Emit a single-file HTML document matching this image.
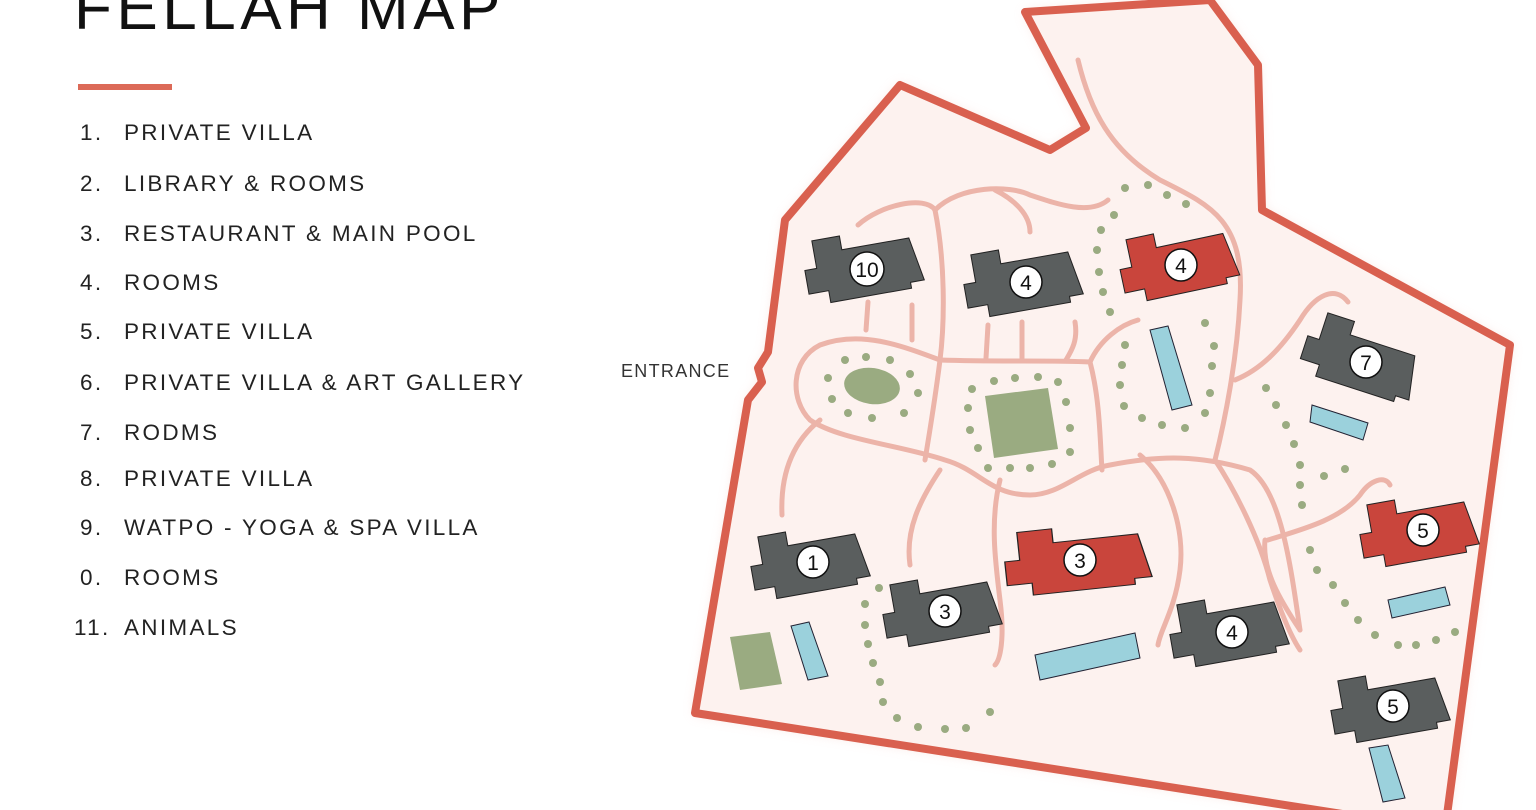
<!DOCTYPE html>
<html><head><meta charset="utf-8"><style>
html,body{margin:0;padding:0;background:#fff;}
body{width:1536px;height:810px;overflow:hidden;position:relative;font-family:"Liberation Sans",sans-serif;}
.t{position:absolute;left:74px;top:-22px;font-size:62px;letter-spacing:4.5px;color:#111;line-height:1;}
.bar{position:absolute;left:78px;top:84px;width:94px;height:6px;background:#dc6a58;}
.li{position:absolute;font-size:22.5px;letter-spacing:2.3px;color:#222;line-height:1;}
.li span{position:absolute;left:0;}
.li b{font-weight:normal;position:absolute;left:44px;white-space:nowrap;}
</style></head><body>
<div class="t">FELLAH MAP</div>
<div class="bar"></div>
<div class="li" style="left:80px;top:122px"><span>1.</span><b>PRIVATE VILLA</b></div>
<div class="li" style="left:80px;top:173px"><span>2.</span><b>LIBRARY &amp; ROOMS</b></div>
<div class="li" style="left:80px;top:223px"><span>3.</span><b>RESTAURANT &amp; MAIN POOL</b></div>
<div class="li" style="left:80px;top:272px"><span>4.</span><b>ROOMS</b></div>
<div class="li" style="left:80px;top:321px"><span>5.</span><b>PRIVATE VILLA</b></div>
<div class="li" style="left:80px;top:372px"><span>6.</span><b>PRIVATE VILLA &amp; ART GALLERY</b></div>
<div class="li" style="left:80px;top:422px"><span>7.</span><b>RODMS</b></div>
<div class="li" style="left:80px;top:468px"><span>8.</span><b>PRIVATE VILLA</b></div>
<div class="li" style="left:80px;top:517px"><span>9.</span><b>WATPO - YOGA &amp; SPA VILLA</b></div>
<div class="li" style="left:80px;top:567px"><span>0.</span><b>ROOMS</b></div>
<div class="li" style="left:74px;top:617px"><span>11.</span><b style="left:50px">ANIMALS</b></div>
<svg width="1536" height="810" style="position:absolute;left:0;top:0">
<defs>
<filter id="g" x="-10%" y="-10%" width="120%" height="120%"><feGaussianBlur stdDeviation="6"/></filter>
<path id="b" d="M-48,-34 L-20,-34 L-20,-20 L48,-20 L56,24 L42,24 L42,30 L-40,30 L-40,18 L-60,18 L-60,-6 L-48,-6 Z"/>
</defs>
<text x="621" y="377" font-size="18" letter-spacing="1.3" fill="#333" font-family="Liberation Sans">ENTRANCE</text>
<path d="M1025,12 L1210,0 L1258,65 L1262,210 L1510,345 L1445,830 L695,713 L748,400 L762,382 L758,368 L768,352 L785,220 L900,85 L1050,150 L1086,128 Z" fill="#f6c7bd" filter="url(#g)" opacity="0.6"/>
<path d="M1025,12 L1210,0 L1258,65 L1262,210 L1510,345 L1445,830 L695,713 L748,400 L762,382 L758,368 L768,352 L785,220 L900,85 L1050,150 L1086,128 Z" fill="#fdf2ef" stroke="#d9604f" stroke-width="8" stroke-linejoin="round"/>
<g fill="none" stroke="#ecb4a9" stroke-width="5" stroke-linecap="round">
<path d="M1078,60 C1090,110 1110,150 1160,180 C1210,205 1245,220 1240,300 C1237,360 1225,420 1215,460"/>
<path d="M858,225 C880,205 925,195 935,210 C960,185 1010,185 1030,195 C1060,205 1090,215 1108,200"/>
<path d="M995,190 C1015,200 1030,215 1030,232"/>
<path d="M935,210 C945,260 945,320 940,360 C935,400 930,430 925,460"/>
<path d="M940,360 C900,345 860,330 820,345 C790,360 790,400 810,420 C840,440 900,445 945,460 C980,470 990,495 1030,495 C1060,495 1080,470 1110,465 C1160,455 1200,455 1250,470 C1280,490 1290,560 1300,630"/>
<path d="M940,360 C1000,362 1050,360 1090,362 C1100,400 1100,440 1102,470"/>
<path d="M1090,362 C1100,340 1120,325 1138,320"/>
<path d="M868,302 L866,330 M912,305 L912,340 M988,325 L986,358 M1022,322 L1022,358 M1075,322 C1078,340 1072,350 1066,360"/>
<path d="M1235,380 C1260,370 1280,350 1300,320 C1315,295 1335,285 1348,302"/>
<path d="M1215,460 C1235,490 1260,540 1270,580 C1280,610 1290,635 1300,650"/>
<path d="M1268,540 C1300,530 1340,520 1360,495 C1370,480 1385,475 1390,485"/>
<path d="M1265,540 C1262,570 1280,600 1300,630"/>
<path d="M1140,455 C1170,480 1185,530 1180,570 C1175,610 1160,630 1158,645"/>
<path d="M1000,480 C990,520 995,560 1000,600 C1005,640 1000,660 995,665"/>
<path d="M940,470 C920,500 905,530 910,565"/>
<path d="M820,420 C795,440 780,470 782,515"/>
</g>
<g fill="#9aab81">
<ellipse cx="872" cy="386" rx="28" ry="18" transform="rotate(8 872 386)"/>
<polygon points="985,396 1048,388 1058,449 994,458"/>
<polygon points="730,637 770,632 782,684 740,690"/>
</g>
<g fill="#9bd1dc" stroke="#223" stroke-width="1">
<polygon points="1150,330 1168,326 1192,405 1172,410"/>
<polygon points="1312,405 1368,423 1363,440 1310,422"/>
<polygon points="1035,655 1135,633 1140,658 1040,680"/>
<polygon points="1388,600 1445,587 1450,605 1392,618"/>
<polygon points="791,626 809,622 828,676 808,680"/>
<polygon points="1369,748 1388,745 1405,798 1383,802"/>
</g>
<g fill="#9aab81">
<circle cx="845" cy="360" r="4"/><circle cx="866" cy="357" r="4"/><circle cx="890" cy="360" r="4"/><circle cx="910" cy="374" r="4"/><circle cx="918" cy="393" r="4"/><circle cx="904" cy="413" r="4"/><circle cx="872" cy="418" r="4"/><circle cx="848" cy="413" r="4"/><circle cx="832" cy="399" r="4"/><circle cx="828" cy="378" r="4"/>
<circle cx="972" cy="389" r="4"/><circle cx="994" cy="381" r="4"/><circle cx="1015" cy="378" r="4"/><circle cx="1038" cy="377" r="4"/><circle cx="1058" cy="382" r="4"/><circle cx="1066" cy="402" r="4"/><circle cx="1070" cy="428" r="4"/><circle cx="1070" cy="452" r="4"/><circle cx="1052" cy="464" r="4"/><circle cx="1030" cy="468" r="4"/><circle cx="1010" cy="468" r="4"/><circle cx="988" cy="468" r="4"/><circle cx="978" cy="448" r="4"/><circle cx="970" cy="430" r="4"/><circle cx="968" cy="408" r="4"/>
<circle cx="1125" cy="188" r="4"/><circle cx="1148" cy="185" r="4"/><circle cx="1167" cy="195" r="4"/><circle cx="1186" cy="204" r="4"/><circle cx="1114" cy="215" r="4"/><circle cx="1101" cy="230" r="4"/><circle cx="1097" cy="250" r="4"/><circle cx="1099" cy="272" r="4"/><circle cx="1103" cy="292" r="4"/><circle cx="1110" cy="312" r="4"/>
<circle cx="1125" cy="345" r="4"/><circle cx="1122" cy="365" r="4"/><circle cx="1120" cy="385" r="4"/><circle cx="1124" cy="406" r="4"/><circle cx="1142" cy="418" r="4"/><circle cx="1162" cy="425" r="4"/><circle cx="1185" cy="428" r="4"/><circle cx="1205" cy="413" r="4"/><circle cx="1210" cy="393" r="4"/><circle cx="1212" cy="366" r="4"/><circle cx="1214" cy="346" r="4"/><circle cx="1205" cy="323" r="4"/>
<circle cx="1266" cy="388" r="4"/><circle cx="1276" cy="405" r="4"/><circle cx="1286" cy="425" r="4"/><circle cx="1294" cy="444" r="4"/><circle cx="1300" cy="465" r="4"/><circle cx="1300" cy="485" r="4"/><circle cx="1302" cy="505" r="4"/><circle cx="1324" cy="476" r="4"/><circle cx="1345" cy="469" r="4"/>
<circle cx="1310" cy="550" r="4"/><circle cx="1317" cy="570" r="4"/><circle cx="1333" cy="585" r="4"/><circle cx="1345" cy="603" r="4"/><circle cx="1358" cy="620" r="4"/><circle cx="1375" cy="635" r="4"/><circle cx="1398" cy="645" r="4"/><circle cx="1416" cy="645" r="4"/><circle cx="1436" cy="640" r="4"/><circle cx="1455" cy="632" r="4"/>
<circle cx="879" cy="588" r="4"/><circle cx="865" cy="604" r="4"/><circle cx="865" cy="625" r="4"/><circle cx="868" cy="644" r="4"/><circle cx="873" cy="663" r="4"/><circle cx="880" cy="682" r="4"/><circle cx="883" cy="702" r="4"/><circle cx="897" cy="718" r="4"/><circle cx="918" cy="727" r="4"/><circle cx="945" cy="729" r="4"/><circle cx="966" cy="728" r="4"/><circle cx="990" cy="712" r="4"/>
</g>
<g stroke="#222" stroke-width="1">
<use href="#b" fill="#5a5e5e" transform="translate(865,266) rotate(-10)"/>
<use href="#b" fill="#5a5e5e" transform="translate(1024,280) rotate(-10)"/>
<use href="#b" fill="#c9453c" transform="translate(1180,263) rotate(-12)"/>
<use href="#b" fill="#5a5e5e" transform="translate(1363,360) rotate(18)"/>
<use href="#b" fill="#5a5e5e" transform="translate(811,562) rotate(-10)"/>
<use href="#b" fill="#5a5e5e" transform="translate(943,610) rotate(-10)"/>
<use href="#b" fill="#c9453c" transform="translate(1080,560) rotate(-6) scale(1.25,1)"/>
<use href="#b" fill="#5a5e5e" transform="translate(1230,630) rotate(-10)"/>
<use href="#b" fill="#c9453c" transform="translate(1420,530) rotate(-10)"/>
<use href="#b" fill="#5a5e5e" transform="translate(1391,706) rotate(-10)"/>
</g>
<g fill="#fff" stroke="#111" stroke-width="1.5">
<circle cx="867" cy="269" r="17"/><circle cx="1026" cy="282" r="16"/><circle cx="1181" cy="265" r="16"/><circle cx="1366" cy="362" r="16"/><circle cx="813" cy="562" r="16"/><circle cx="945" cy="611" r="16"/><circle cx="1080" cy="560" r="16"/><circle cx="1232" cy="632" r="16"/><circle cx="1423" cy="530" r="16"/><circle cx="1393" cy="706" r="16"/>
</g>
<g font-family="Liberation Sans" font-size="21" fill="#111" text-anchor="middle">
<text x="867" y="277">10</text><text x="1026" y="290">4</text><text x="1181" y="273">4</text><text x="1366" y="370">7</text><text x="813" y="570">1</text><text x="945" y="619">3</text><text x="1080" y="568">3</text><text x="1232" y="640">4</text><text x="1423" y="538">5</text><text x="1393" y="714">5</text>
</g>
</svg>
</body></html>
